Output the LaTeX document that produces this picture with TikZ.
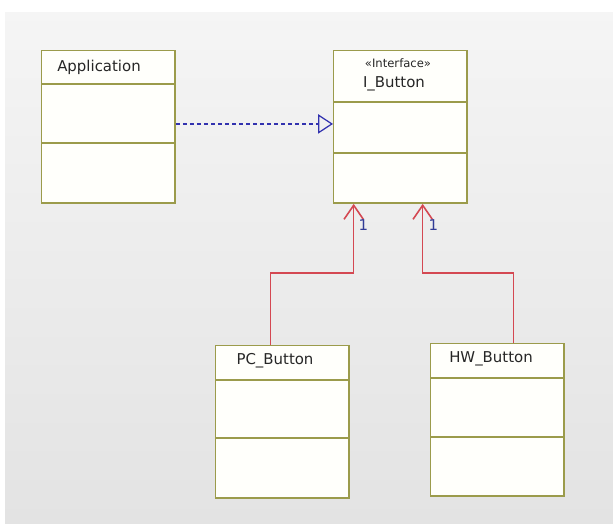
\documentclass[tikz,border=0pt]{standalone}
\usepackage{fontspec}
\setmainfont{DejaVu Sans}
\usetikzlibrary{arrows.meta}

\definecolor{boxline}{RGB}{155,155,75}
\definecolor{boxfill}{RGB}{255,255,251}
\definecolor{reallink}{RGB}{50,50,175}
\definecolor{assoclink}{RGB}{212,72,82}
\definecolor{multcol}{RGB}{50,60,150}

\begin{document}
\begin{tikzpicture}[x=0.02cm,y=-0.02cm,
    class/.style={draw=boxline,fill=boxfill,line width=0.8pt,inner sep=0pt,
                  anchor=north west,minimum width=2.67cm,minimum height=3.05cm},
    title/.style={font=\fontsize{8.5}{10}\selectfont,text=black!85},
    stereo/.style={font=\fontsize{6.6}{8}\selectfont,text=black!85},
    mult/.style={font=\fontsize{8.5}{10}\selectfont,text=multcol},
    real/.style={draw=reallink,line width=0.7pt,dash pattern=on 2.3pt off 1.7pt,
                 -{Triangle[open,length=8.5pt,width=11pt]}},
    assoc/.style={draw=assoclink,line width=0.9pt,
                  -{Straight Barb[length=8pt,width=11pt]}}]

  % backdrop
  \useasboundingbox (0,0) rectangle (613,524);
  \shade[top color=gray!8,bottom color=gray!22] (5,12) rectangle (613,524);

  % classes
  \node[class] (app) at (41,50) {};
  \node[class] (ibutton) at (333,50) {};
  \node[class] (pcbutton) at (215,345) {};
  \node[class] (hwbutton) at (430,343) {};

  % compartments
  \foreach \n/\a/\b in {app/34/93,ibutton/52/103,pcbutton/35/93,hwbutton/35/94}
    \draw[boxline,line width=0.8pt] (\n.north west) ++(0,\a) -- ++(133.5,0)
                                    (\n.north west) ++(0,\b) -- ++(133.5,0);

  % names
  \node[title] (apptitle) at (99,67) {Application};
  \node[stereo] (istereo) at (398,63) {«Interface»};
  \node[title] (ititle) at (394,84) {I\_Button};
  \node[title] (pctitle) at (275,361) {PC\_Button};
  \node[title] (hwtitle) at (491,359) {HW\_Button};

  % relations
  \draw[real] ([shift={(0,-3)}]app.east) -- ([shift={(0,-3)}]ibutton.west);
  \draw[assoc] ([shift={(-12,0)}]pcbutton.north) -- ++(0,-72)
               -| ([shift={(-46.75,0)}]ibutton.south);
  \draw[assoc] ([shift={(16.25,0)}]hwbutton.north) -- ++(0,-70)
               -| ([shift={(22.25,0)}]ibutton.south);

  \node[mult] (mult1) at ([shift={(-37,21)}]ibutton.south) {1};
  \node[mult] (mult2) at ([shift={(33,21)}]ibutton.south) {1};
\end{tikzpicture}
\end{document}
